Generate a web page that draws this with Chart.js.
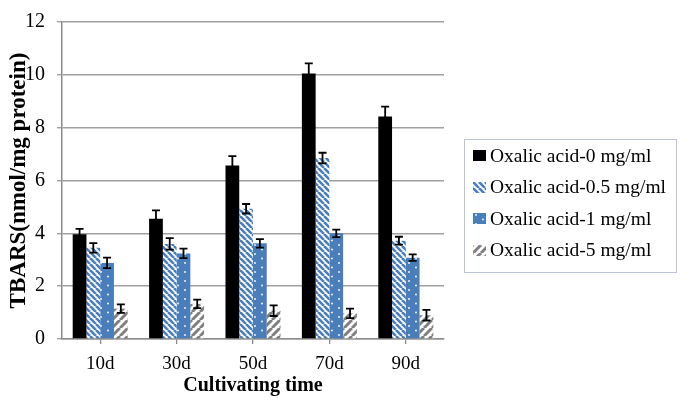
<!DOCTYPE html>
<html>
<head>
<meta charset="utf-8">
<script src="https://cdn.jsdelivr.net/npm/chart.js@4.4.1/dist/chart.umd.min.js"></script>
<style>
    body { margin: 0; background: #fff; }
    #wrap { position: relative; width: 685px; height: 402px; }
    #legend {
        position: absolute; left: 464px; top: 139px; width: 213px; height: 134px;
        box-sizing: border-box; border: 1px solid #bcc5d8; background: #fff;
        font-family: "Liberation Serif", "Times New Roman", serif; font-size: 19.5px; color: #000;
    }
    .row { height: 31.5px; display: flex; align-items: center; padding-left: 8px; white-space: nowrap; }
    .row canvas { margin-right: 4px; }
</style>
</head>
<body>
<div id="wrap">
    <canvas id="chart" width="685" height="402"></canvas>
    <div id="legend"></div>
</div>
<script>
// Dati
const categories = ['10d', '30d', '50d', '70d', '90d'];
const seriesNames = ['Oxalic acid-0 mg/ml', 'Oxalic acid-0.5 mg/ml', 'Oxalic acid-1 mg/ml', 'Oxalic acid-5 mg/ml'];

const oxalic0 = [3.97, 4.55, 6.57, 10.05, 8.42];
const oxalic05 = [3.45, 3.60, 4.93, 6.85, 3.72];
const oxalic1 = [2.88, 3.24, 3.62, 4.00, 3.08];
const oxalic5 = [1.15, 1.33, 1.07, 0.97, 0.90];

const err0 = [0.20, 0.32, 0.35, 0.38, 0.38];
const err05 = [0.18, 0.22, 0.18, 0.20, 0.15];
const err1 = [0.20, 0.18, 0.16, 0.14, 0.12];
const err5 = [0.16, 0.16, 0.20, 0.18, 0.20];

const yTicks = [0, 2, 4, 6, 8, 10, 12];

const BLUE = '#4a7ebb';
const SERIF = "'Liberation Serif', 'Times New Roman', serif";

/**
 * Crea pattern per le barre
 */
function makePattern(ctx, kind) {
    const tile = document.createElement('canvas');
    const t = tile.getContext('2d');
    if (kind === 'solid') {
        return '#000000';
    }
    if (kind === 'back') {
        // righe diagonali blu "\" su bianco
        const s = 6;
        tile.width = s; tile.height = s;
        t.fillStyle = '#fff';
        t.fillRect(0, 0, s, s);
        t.strokeStyle = BLUE;
        t.lineWidth = 2.6;
        [-s, 0, s].forEach(o => {
            t.beginPath();
            t.moveTo(o, 0);
            t.lineTo(o + s, s);
            t.stroke();
        });
    } else if (kind === 'dots') {
        // blu con puntini bianchi radi
        tile.width = 14; tile.height = 9;
        t.fillStyle = BLUE;
        t.fillRect(0, 0, 14, 9);
        t.fillStyle = '#fff';
        t.beginPath(); t.arc(3, 2, 0.9, 0, Math.PI * 2); t.fill();
        t.beginPath(); t.arc(10, 6.5, 0.9, 0, Math.PI * 2); t.fill();
    } else if (kind === 'fwd') {
        // righe diagonali grigie "/" su bianco
        const s = 8;
        tile.width = s; tile.height = s;
        t.fillStyle = '#fff';
        t.fillRect(0, 0, s, s);
        t.strokeStyle = '#7f7f7f';
        t.lineWidth = 3;
        [-s, 0, s].forEach(o => {
            t.beginPath();
            t.moveTo(o, s);
            t.lineTo(o + s, 0);
            t.stroke();
        });
    }
    return ctx.createPattern(tile, 'repeat');
}

const kinds = ['solid', 'back', 'dots', 'fwd'];
const values = [oxalic0, oxalic05, oxalic1, oxalic5];
const errors = [err0, err05, err1, err5];

// Barre di errore
const errorBarsPlugin = {
    id: 'errorBars',
    afterDatasetsDraw(chart) {
        const ctx = chart.ctx;
        const y = chart.scales.y;
        ctx.save();
        ctx.strokeStyle = '#000';
        ctx.lineWidth = 1.8;
        chart.data.datasets.forEach((ds, i) => {
            const meta = chart.getDatasetMeta(i);
            meta.data.forEach((bar, j) => {
                const v = ds.data[j];
                const e = ds.errors[j];
                const top = y.getPixelForValue(v + e);
                const bot = y.getPixelForValue(v - e);
                const cx = bar.x;
                ctx.beginPath();
                ctx.moveTo(cx, top); ctx.lineTo(cx, bot);
                ctx.moveTo(cx - 4, top); ctx.lineTo(cx + 4, top);
                ctx.moveTo(cx - 4, bot); ctx.lineTo(cx + 4, bot);
                ctx.stroke();
            });
        });
        ctx.restore();
    }
};

const canvas = document.getElementById('chart');
const mainCtx = canvas.getContext('2d');

const datasets = values.map((vals, i) => ({
    label: seriesNames[i],
    data: vals,
    errors: errors[i],
    backgroundColor: makePattern(mainCtx, kinds[i]),
    borderWidth: 0,
    categoryPercentage: 0.72,
    barPercentage: 1.0
}));

new Chart(canvas, {
    type: 'bar',
    data: { labels: categories, datasets: datasets },
    options: {
        responsive: false,
        animation: false,
        layout: { padding: { top: 0, right: 241, bottom: 0, left: 0 } },
        plugins: {
            legend: { display: false },
            tooltip: { enabled: false }
        },
        scales: {
            x: {
                afterFit: scale => { scale.height = 63; },
                grid: {
                    offset: false,
                    drawOnChartArea: false,
                    tickLength: 5,
                    color: '#8c8c8c',
                    lineWidth: 1.3
                },
                border: { color: '#8c8c8c', width: 1.5 },
                ticks: {
                    padding: 9,
                    color: '#000',
                    font: { family: SERIF, size: 19 }
                },
                title: {
                    display: true,
                    text: 'Cultivating time',
                    color: '#000',
                    padding: { top: 0, bottom: 4 },
                    font: { family: SERIF, size: 20, weight: 'bold' }
                }
            },
            y: {
                min: 0,
                max: 12,
                afterFit: scale => { scale.width = 62; },
                afterBuildTicks: scale => {
                    scale.ticks = yTicks.map(v => ({ value: v }));
                },
                grid: {
                    color: '#a0a0a0',
                    lineWidth: 1.4,
                    tickLength: 5
                },
                border: { color: '#8c8c8c', width: 1.5 },
                ticks: {
                    padding: 12,
                    color: '#000',
                    font: { family: SERIF, size: 20, lineHeight: 1.0 }
                },
                title: {
                    display: true,
                    text: 'TBARS(nmol/mg protein)',
                    color: '#000',
                    padding: { top: 5, bottom: 0 },
                    font: { family: SERIF, size: 23, weight: 'bold' }
                }
            }
        }
    },
    plugins: [errorBarsPlugin]
});

// Legenda HTML con i campioni dei pattern
const legendEl = document.getElementById('legend');
seriesNames.forEach((name, i) => {
    const row = document.createElement('div');
    row.className = 'row';
    const sw = document.createElement('canvas');
    sw.width = 13; sw.height = 11;
    const sctx = sw.getContext('2d');
    sctx.fillStyle = makePattern(sctx, kinds[i]);
    sctx.fillRect(0, 0, 13, 11);
    const label = document.createElement('span');
    label.textContent = name;
    row.appendChild(sw);
    row.appendChild(label);
    legendEl.appendChild(row);
});
</script>
</body>
</html>
